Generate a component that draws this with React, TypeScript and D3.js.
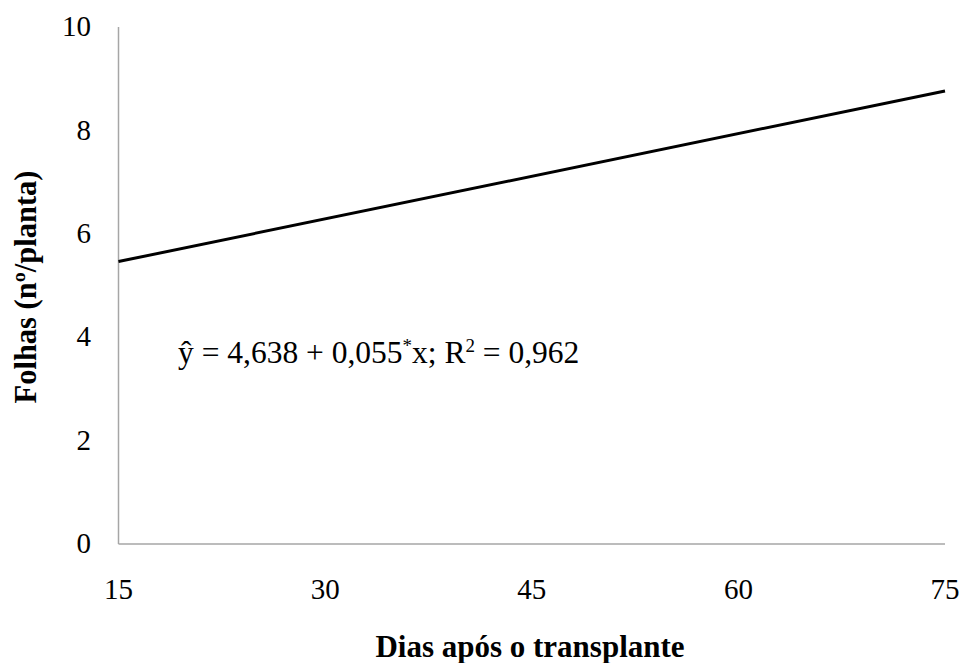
import React from "react";
import * as d3 from "d3";

const xTicks = [15, 30, 45, 60, 75];
const yTicks = [0, 2, 4, 6, 8, 10];
const linePoints: [number, number][] = [
  [15, 5.463],
  [75, 8.763],
];
const equationText = "ŷ = 4,638 + 0,055";
const xTitle = "Dias após o transplante";
const yTitle = "Folhas (nº/planta)";

export default function App() {
  const W = 961;
  const H = 663;
  const x = d3.scaleLinear().domain([15, 75]).range([118.5, 945]);
  const y = d3.scaleLinear().domain([0, 10]).range([544, 27]);
  const line = d3
    .line<[number, number]>()
    .x((d) => x(d[0]))
    .y((d) => y(d[1]));
  const font = "'Liberation Serif', 'Times New Roman', serif";
  return (
    <svg
      width={W}
      height={H}
      style={{ position: "absolute", left: 0, top: 0, background: "#fff" }}
      fontFamily={font}
    >
      <line x1={x(15)} x2={x(15)} y1={y(10)} y2={y(0)} stroke="#a6a6a6" strokeWidth={1.5} />
      <line x1={x(15)} x2={x(75)} y1={y(0)} y2={y(0)} stroke="#a6a6a6" strokeWidth={1.5} />
      {yTicks.map((t) => (
        <text key={t} x={91} y={y(t) - 1} dy="0.35em" textAnchor="end" fontSize={29} fill="#000">
          {t}
        </text>
      ))}
      {xTicks.map((t) => (
        <text key={t} x={x(t)} y={589} dy="0.35em" textAnchor="middle" fontSize={29} fill="#000">
          {t}
        </text>
      ))}
      <path d={line(linePoints) || ""} fill="none" stroke="#000" strokeWidth={3} />
      <text x={178} y={363} fontSize={31.5} fill="#000">
        {equationText}
        <tspan fontSize={19} dy={-11}>*</tspan>
        <tspan dy={11}>x; R</tspan>
        <tspan fontSize={19} dy={-11}>2</tspan>
        <tspan dy={11}> = 0,962</tspan>
      </text>
      <text x={530} y={646} dy="0.35em" textAnchor="middle" fontSize={31} fontWeight="bold" fill="#000">
        {xTitle}
      </text>
      <text
        transform={`translate(25,287) rotate(-90)`}
        dy="0.35em"
        textAnchor="middle"
        fontSize={30.5}
        fontWeight="bold"
        fill="#000"
      >
        {yTitle}
      </text>
    </svg>
  );
}
